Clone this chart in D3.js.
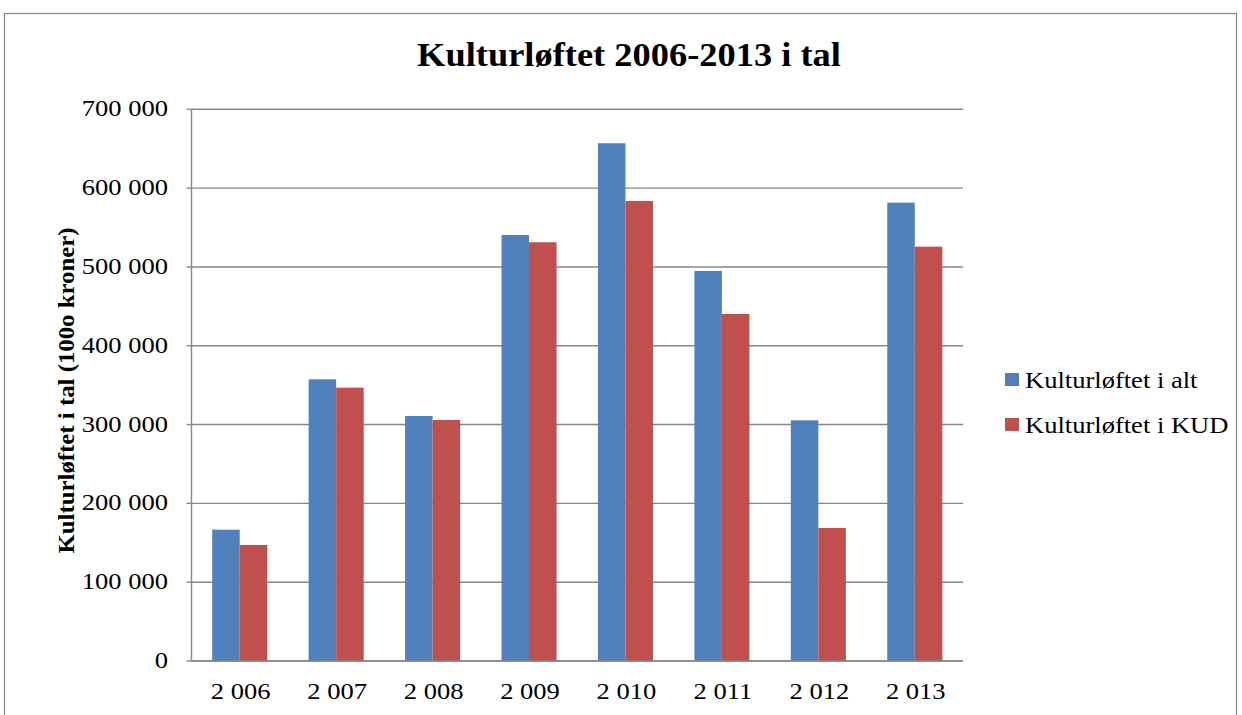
<!DOCTYPE html>
<html>
<head>
<meta charset="utf-8">
<script src="https://cdn.jsdelivr.net/npm/d3@7/dist/d3.min.js"></script>
<style>
  html, body { margin: 0; padding: 0; background: #fff; }
  svg { display: block; }
  text { font-family: "Liberation Serif", "Times New Roman", serif; fill: #000; }
</style>
</head>
<body>
<svg id="chart" width="1242" height="715"></svg>
<script>
// ---- data ----
const categories = [2006, 2007, 2008, 2009, 2010, 2011, 2012, 2013];
const seriesNames = ["Kulturløftet i alt", "Kulturløftet i KUD"];
const valuesAlt = [166600, 357400, 310900, 540500, 656900, 494900, 305400, 581500];
const valuesKUD = [147200, 346800, 305800, 531300, 583700, 440300, 168800, 525700];
const yTicks = [0, 100000, 200000, 300000, 400000, 500000, 600000, 700000];
const colors = ["#4F81BD", "#C0504D"];
const titleText = "Kulturløftet 2006-2013 i tal";
const yTitleText = "Kulturløftet i tal (100o kroner)";

const seriesValues = [valuesAlt, valuesKUD];
const locale = d3.formatLocale({ decimal: ",", thousands: " ", grouping: [3], currency: ["", " kr"] });
const fmt = locale.format(",d");

const svg = d3.select("#chart");
const plot = { left: 191.5, right: 963, top: 109.3, bottom: 661 };
const SX = 1.18; // horizontal stretch of the reference text

// outer frame
svg.append("rect")
  .attr("x", 4.5).attr("y", 13.5)
  .attr("width", 1232).attr("height", 720)
  .attr("fill", "none").attr("stroke", "#868686").attr("stroke-width", 1.2);

const x = d3.scaleBand().domain(categories)
  .range([plot.left, plot.right]).paddingInner(0.429).paddingOuter(0.2145);
const xs = d3.scaleBand().domain(d3.range(seriesNames.length))
  .range([0, x.bandwidth()]).padding(0);
const y = d3.scaleLinear().domain([0, 700000]).range([plot.bottom, plot.top]);

// gridlines
svg.append("g").selectAll("line").data(yTicks).join("line")
  .attr("x1", plot.left).attr("x2", plot.right)
  .attr("y1", d => y(d)).attr("y2", d => y(d))
  .attr("stroke", "#878787").attr("stroke-width", 1.4);

// y axis line and ticks
svg.append("line")
  .attr("x1", plot.left).attr("x2", plot.left)
  .attr("y1", plot.top).attr("y2", plot.bottom)
  .attr("stroke", "#878787").attr("stroke-width", 1.4);
svg.append("g").selectAll("line").data(yTicks).join("line")
  .attr("x1", plot.left - 5).attr("x2", plot.left)
  .attr("y1", d => y(d)).attr("y2", d => y(d))
  .attr("stroke", "#878787").attr("stroke-width", 1.4);

// bars
const groups = svg.append("g").selectAll("g").data(categories).join("g")
  .attr("transform", d => `translate(${x(d)},0)`);
groups.selectAll("rect")
  .data((d, i) => seriesValues.map((vals, s) => ({ s, v: vals[i] })))
  .join("rect")
  .attr("x", d => xs(d.s))
  .attr("width", xs.bandwidth())
  .attr("y", d => y(d.v))
  .attr("height", d => y(0) - y(d.v))
  .attr("fill", d => colors[d.s]);

// x axis line (over bars)
svg.append("line")
  .attr("x1", plot.left).attr("x2", plot.right)
  .attr("y1", plot.bottom).attr("y2", plot.bottom)
  .attr("stroke", "#878787").attr("stroke-width", 1.4);

// y tick labels
svg.append("g").selectAll("text").data(yTicks).join("text")
  .attr("transform", d => `translate(168,${y(d) + 7}) scale(${SX},1)`)
  .attr("text-anchor", "end")
  .attr("font-size", 22.5)
  .text(d => fmt(d));

// x tick labels
svg.append("g").selectAll("text").data(categories).join("text")
  .attr("transform", d => `translate(${x(d) + x.bandwidth() / 2 + 1},699) scale(${SX},1)`)
  .attr("text-anchor", "middle")
  .attr("font-size", 22.5)
  .text(d => fmt(d));

// title
const title = svg.append("text")
  .attr("text-anchor", "middle")
  .attr("font-size", 33)
  .attr("font-weight", "bold")
  .text(titleText);
const tw = title.node().getComputedTextLength();
title.attr("transform", `translate(629,66) scale(${424 / tw},1)`);

// y axis title
svg.append("text")
  .attr("transform", "translate(74,390.5) rotate(-90)")
  .attr("text-anchor", "middle")
  .attr("font-size", 24)
  .attr("font-weight", "bold")
  .attr("textLength", 326)
  .attr("lengthAdjust", "spacingAndGlyphs")
  .text(yTitleText);

// legend
const legend = svg.append("g").selectAll("g").data(seriesNames).join("g")
  .attr("transform", (d, i) => `translate(1005,${373 + i * 45})`);
legend.append("rect")
  .attr("width", 14).attr("height", 13)
  .attr("fill", (d, i) => colors[i]);
legend.append("text")
  .attr("transform", `translate(20,14.5) scale(${SX},1)`)
  .attr("font-size", 22.5)
  .text(d => d);
</script>
</body>
</html>
